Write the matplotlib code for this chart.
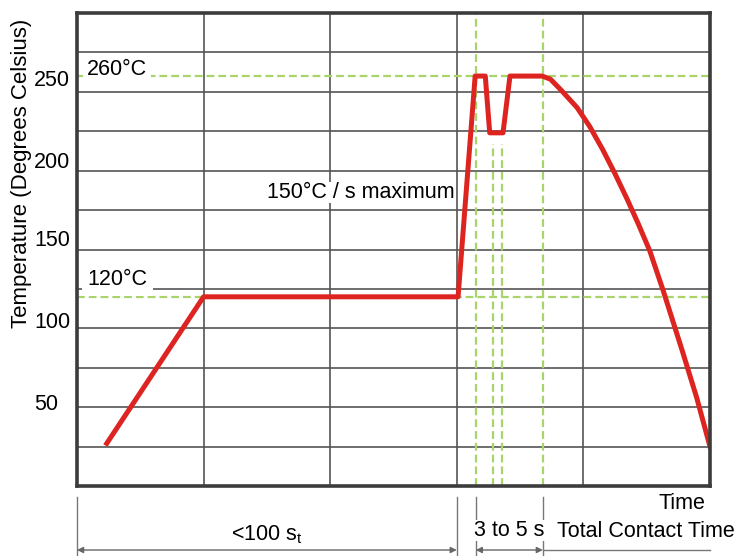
"""Wave soldering temperature profile, redrawn with matplotlib"""
import matplotlib
matplotlib.use("Agg")
import matplotlib.pyplot as plt
from matplotlib.transforms import blended_transform_factory

plt.rcParams['font.family'] = ['Liberation Sans', 'DejaVu Sans']
plt.rcParams['mathtext.fontset'] = 'custom'
plt.rcParams['mathtext.rm'] = 'Liberation Sans'

# profile (x in grid units 0..100, y in degrees C)
PROFILE_X = [4.7, 20.0, 60.2, 62.9, 64.5, 65.2, 67.3, 68.4, 73.5,
             74.8, 76.5, 79.0, 81.0, 83.1, 85.0, 86.9, 88.7, 90.5,
             92.6, 95.6, 97.9, 100.0]
PROFILE_Y = [27, 120, 120, 260, 260, 224, 224, 260, 260,
             258, 251, 240, 228, 213, 198, 182, 166, 149,
             124, 86, 56, 25]

X_GRID = [0, 20, 40, 60, 80, 100]
Y_GRID = list(range(0, 301, 25))
Y_LABELS = [50, 100, 150, 200, 250]
Y_LABEL_POS = [51.4, 103.4, 155.4, 205.4, 257.5]

LEVELS = [260, 120]
LEVEL_LABELS = ["260°C", "120°C"]
FULL_MARKS = [63.0, 73.6]
SHORT_MARKS = [65.7, 67.1]
SHORT_TOP = 217

RED = "#dd2420"
GREEN = "#a8d46a"
GRID = "#555555"
FRAME = "#3c3c3c"
FS = 15.5

fig = plt.figure(figsize=(7.53, 5.56), dpi=100)
ax = fig.add_axes([77 / 753, 70 / 556, 633 / 753, 473 / 556])
ax.set_xlim(0, 100)
ax.set_ylim(0, 300)
ax.set_xticks(X_GRID)
ax.set_yticks(Y_GRID)
ax.tick_params(length=0, labelleft=False, labelbottom=False)
ax.grid(True, color=GRID, linewidth=1.2, zorder=1)
ax.set_axisbelow(True)
for sp in ax.spines.values():
    sp.set_color(FRAME)
    sp.set_linewidth(2.6)
    sp.set_zorder(6)

# green reference lines
dash = dict(color=GREEN, linewidth=1.6, dashes=(3.5, 1.8), zorder=2)
for lv in LEVELS:
    ax.axhline(lv, **dash)
for xm in FULL_MARKS:
    ax.axvline(xm, **dash)
for xm in SHORT_MARKS:
    ax.plot([xm, xm], [0, SHORT_TOP], **dash)

# profile curve
ax.plot(PROFILE_X, PROFILE_Y, color=RED, linewidth=3.6,
        solid_joinstyle='round', zorder=4)

# level labels with white boxes
ax.text(1.6, 264, LEVEL_LABELS[0], fontsize=FS, ha='left', va='center',
        bbox=dict(facecolor='white', edgecolor='none', pad=3), zorder=3)
ax.text(1.7, 131, LEVEL_LABELS[1], fontsize=FS, ha='left', va='center',
        bbox=dict(facecolor='white', edgecolor='none', pad=4), zorder=3)
ax.text(59.7, 186, "150°C / s maximum", fontsize=FS, ha='right', va='center',
        bbox=dict(facecolor='white', edgecolor='none', pad=0), zorder=3)

# y tick labels, left aligned
trans = blended_transform_factory(ax.transAxes, ax.transData)
for val, pos in zip(Y_LABELS, Y_LABEL_POS):
    ax.text(-0.068, pos, str(val), transform=trans, fontsize=FS,
            ha='left', va='center', clip_on=False)

fig.text(22 / 753, 1 - 173 / 556, "Temperature (Degrees Celsius)",
         rotation=90, fontsize=16, ha='center', va='center')

# time annotations below the axes
line_kw = dict(color="#777777", linewidth=1.0, clip_on=False, zorder=1)
for xm in [0, 60.0, FULL_MARKS[0], FULL_MARKS[1]]:
    ax.plot([xm, xm], [-7, -45], **line_kw)

arrow = dict(arrowstyle='<|-|>', color="#666666", lw=1.0,
             mutation_scale=9, shrinkA=0, shrinkB=0)
ax.annotate("", xy=(0, -40.6), xytext=(60.0, -40.6), arrowprops=arrow,
            annotation_clip=False)
ax.annotate("", xy=(FULL_MARKS[0], -40.6), xytext=(FULL_MARKS[1], -40.6),
            arrowprops=arrow, annotation_clip=False)
ax.plot([FULL_MARKS[1], 100], [-40.6, -40.6], **line_kw)

bottom_box = dict(facecolor='white', edgecolor='none', pad=0)
ax.text(29.9, -31, r"<100 s$_\mathregular{t}$", fontsize=FS, ha='center',
        va='center', clip_on=False)
ax.text(68.3, -28, "3 to 5 s", fontsize=FS, ha='center', va='center',
        bbox=bottom_box, clip_on=False, zorder=3)
ax.text(89.9, -29, "Total Contact Time", fontsize=FS, ha='center',
        va='center', clip_on=False)
ax.text(95.5, -11, "Time", fontsize=FS, ha='center', va='center',
        clip_on=False)

fig.savefig("out.png", dpi=100)
